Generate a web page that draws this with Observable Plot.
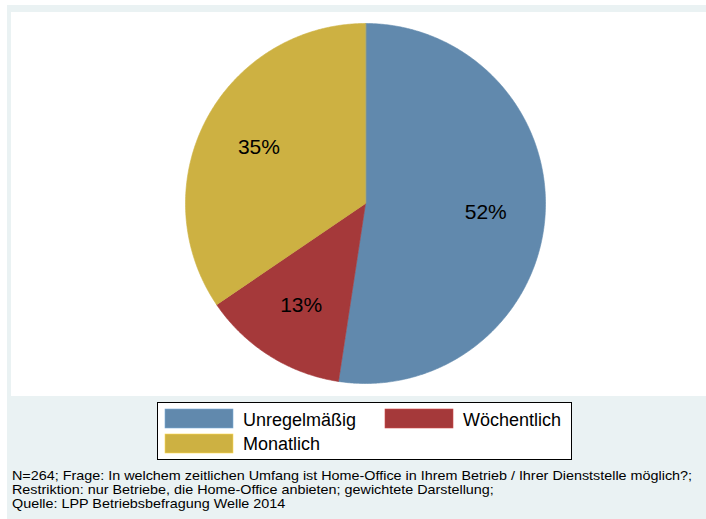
<!DOCTYPE html>
<html>
<head>
<meta charset="utf-8">
<script src="https://cdn.jsdelivr.net/npm/d3@7"></script>
<script src="https://cdn.jsdelivr.net/npm/@observablehq/plot@0.6"></script>
<style>
  html, body { margin: 0; padding: 0; background: #ffffff; width: 706px; height: 519px; overflow: hidden; }
  #outer { position: absolute; left: 7px; top: 5px; width: 699px; height: 514px; background: #EAF2F3; }
  #plot { position: absolute; left: 11px; top: 12px; }
  #overlay { position: absolute; left: 0; top: 0; }
  text { font-family: "Liberation Sans", Arial, sans-serif; }
</style>
</head>
<body>
<div id="outer"></div>
<div id="plot"></div>
<svg id="overlay" width="706" height="519"></svg>
<script>
// ---- data ----
const categories = ["Unregelmäßig", "Wöchentlich", "Monatlich"];
const shares = [52.4, 13.1, 34.5];
const sliceLabels = ["52%", "13%", "35%"];
const colors = ["#6189AD", "#A5393A", "#CDB142"];
const notes = [
  "N=264; Frage: In welchem zeitlichen Umfang ist Home-Office in Ihrem Betrieb / Ihrer Dienststelle möglich?;",
  "Restriktion: nur Betriebe, die Home-Office anbieten; gewichtete Darstellung;",
  "Quelle: LPP Betriebsbefragung Welle 2014"
];

// ---- pie geometry from data ----
const total = d3.sum(shares);
const wedgePoints = [];
const labelPoints = [];
let cum = 0;
shares.forEach((v, i) => {
  const a0 = cum / total * 2 * Math.PI;
  const a1 = (cum + v) / total * 2 * Math.PI;
  cum += v;
  const cat = categories[i];
  wedgePoints.push({x: 0, y: 0, cat});
  const n = Math.max(2, Math.ceil((a1 - a0) / (Math.PI / 360)));
  for (let k = 0; k <= n; k++) {
    const t = a0 + (a1 - a0) * k / n;
    wedgePoints.push({x: Math.sin(t), y: Math.cos(t), cat});
  }
  const am = (a0 + a1) / 2;
  labelPoints.push({x: 0.67 * Math.sin(am), y: 0.67 * Math.cos(am), text: sliceLabels[i]});
});

const cx = 365 - 11, cy = 203 - 12, R = 180;
const chart = Plot.plot({
  width: 695,
  height: 384,
  style: {background: "#ffffff", overflow: "visible"},
  x: {domain: [-1, 1], range: [cx - R, cx + R], axis: null},
  y: {domain: [-1, 1], range: [cy + R, cy - R], axis: null},
  color: {domain: categories, range: colors},
  marks: [
    Plot.line(wedgePoints, {x: "x", y: "y", z: "cat", fill: "cat", stroke: "cat", strokeWidth: 0.6, curve: "linear-closed"}),
    Plot.text(labelPoints, {x: "x", y: "y", text: "text", fontSize: 21, fill: "#000000", fontFamily: "Liberation Sans, Arial, sans-serif"})
  ]
});
document.getElementById("plot").appendChild(chart);

// ---- legend & notes ----
const svg = d3.select("#overlay");
svg.append("rect").attr("x", 157.5).attr("y", 402.5).attr("width", 414).attr("height", 57)
  .attr("fill", "#ffffff").attr("stroke", "#000000").attr("stroke-width", 1);
const legPos = [
  {sx: 165, sy: 409, tx: 243, ty: 426},
  {sx: 385, sy: 409, tx: 463, ty: 426},
  {sx: 165, sy: 434, tx: 243, ty: 450}
];
categories.forEach((c, i) => {
  const p = legPos[i];
  svg.append("rect").attr("x", p.sx).attr("y", p.sy).attr("width", 68).attr("height", 19)
    .attr("fill", colors[i]).attr("stroke", d3.color(colors[i]).brighter(0.6)).attr("stroke-width", 0.6);
  svg.append("text").attr("x", p.tx).attr("y", p.ty).attr("font-size", 18).attr("fill", "#000").text(c);
});
const g = svg.append("g");
const lines = notes.map((t, i) => g.append("text").attr("x", 0).attr("y", 480 + i * 14)
  .attr("font-size", 13).attr("fill", "#000").text(t));
const natural = lines[0].node().getComputedTextLength();
const k = 681 / natural;
g.attr("transform", `translate(12,0) scale(${k},1)`);
</script>
</body>
</html>
